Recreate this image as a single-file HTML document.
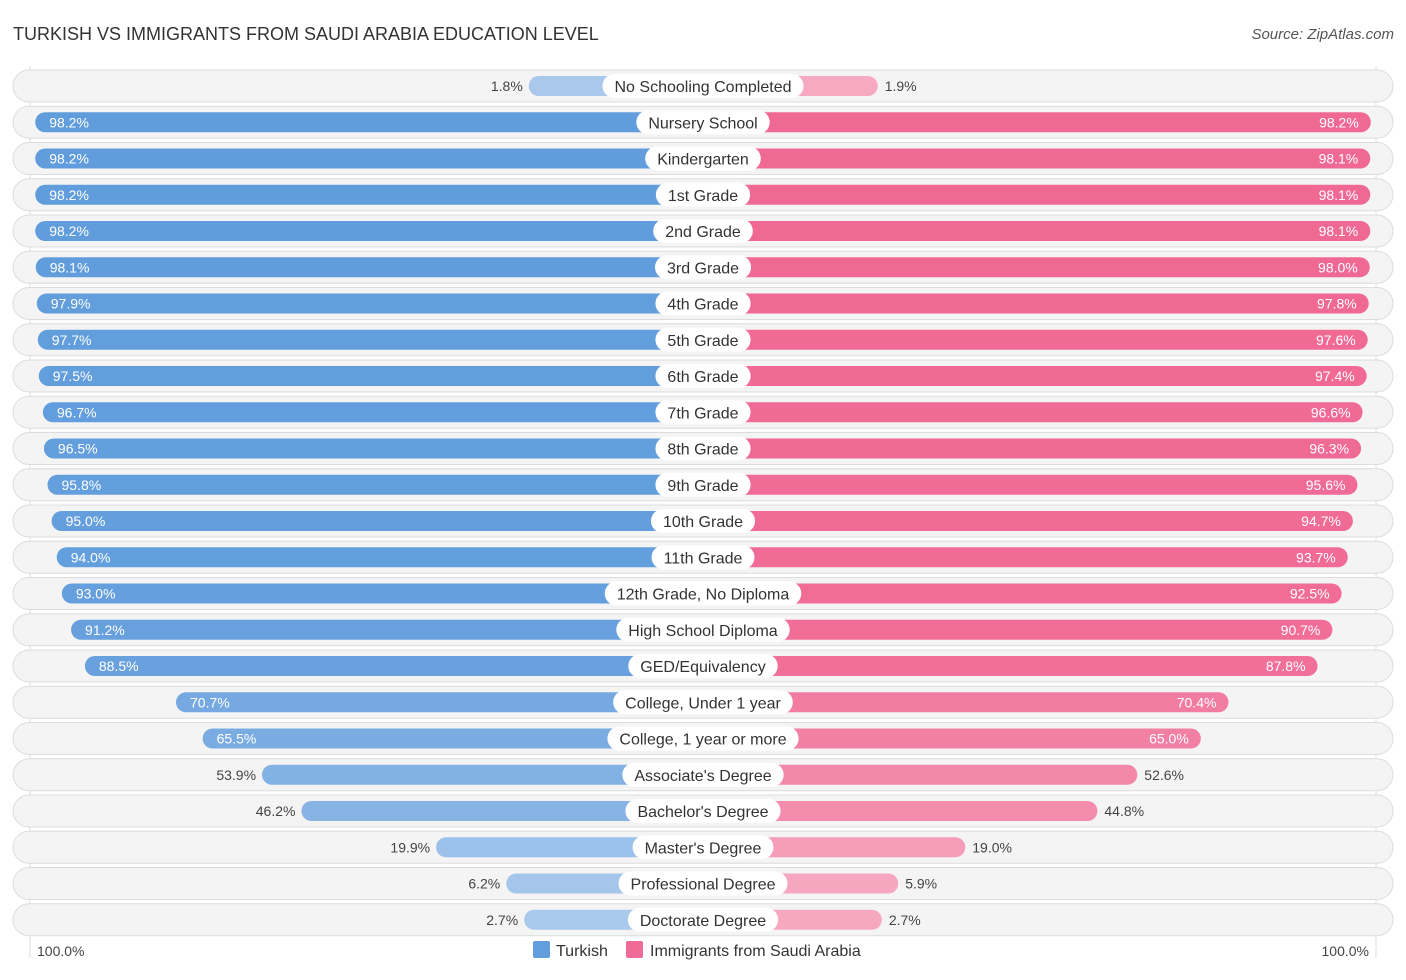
<!DOCTYPE html>
<html><head><meta charset="utf-8"><style>
body{margin:0;background:#fff;font-family:"Liberation Sans",sans-serif;}
svg text{font-family:"Liberation Sans",sans-serif;}
</style></head><body>
<svg id="c" width="1406" height="975">
<text x="13" y="40" font-size="18" fill="#333">TURKISH VS IMMIGRANTS FROM SAUDI ARABIA EDUCATION LEVEL</text>
<text x="1394" y="39" font-size="15" fill="#555" font-style="italic" text-anchor="end">Source: ZipAtlas.com</text>
<line x1="30" y1="66" x2="30" y2="958" stroke="#ddd"/>
<line x1="1376" y1="66" x2="1376" y2="958" stroke="#ddd"/>
<g id="rows"></g>
<text x="37" y="956" font-size="14" fill="#444">100.0%</text>
<text x="1369" y="956" font-size="14" fill="#444" text-anchor="end">100.0%</text>
<rect x="533" y="941" width="17" height="17" rx="2" fill="#629edd"/>
<text x="556" y="956" font-size="16" fill="#333">Turkish</text>
<rect x="626" y="941" width="17" height="17" rx="2" fill="#f06b95"/>
<text x="650" y="956" font-size="16" fill="#333">Immigrants from Saudi Arabia</text>
</svg>
<script>
const categories=["No Schooling Completed","Nursery School","Kindergarten","1st Grade","2nd Grade","3rd Grade","4th Grade","5th Grade","6th Grade","7th Grade","8th Grade","9th Grade","10th Grade","11th Grade","12th Grade, No Diploma","High School Diploma","GED/Equivalency","College, Under 1 year","College, 1 year or more","Associate's Degree","Bachelor's Degree","Master's Degree","Professional Degree","Doctorate Degree"];
const turkish=[1.8,98.2,98.2,98.2,98.2,98.1,97.9,97.7,97.5,96.7,96.5,95.8,95.0,94.0,93.0,91.2,88.5,70.7,65.5,53.9,46.2,19.9,6.2,2.7];
const saudi=[1.9,98.2,98.1,98.1,98.1,98.0,97.8,97.6,97.4,96.6,96.3,95.6,94.7,93.7,92.5,90.7,87.8,70.4,65.0,52.6,44.8,19.0,5.9,2.7];
const NS="http://www.w3.org/2000/svg";
const g=document.getElementById('rows');
const cx=703,base=165,k=5.12;
function len(v){return base+v*k;}
function mix(a,b,t){return 'rgb('+a.map((x,i)=>Math.round(x+(b[i]-x)*t)).join(',')+')';}
function mk(tag,at,parent){const e=document.createElementNS(NS,tag);for(const a in at)e.setAttribute(a,at[a]);(parent||g).appendChild(e);return e;}
const meas=mk('text',{'font-size':16,x:-1000,y:-1000});
categories.forEach((c,i)=>{
  const y=86+i*36.25;
  const row=mk('g',{});
  
  
  mk('rect',{x:13,y:y-16,width:1380,height:32,rx:16,fill:'#f4f4f4',stroke:'#dcdcdc'},row);
  const tv=turkish[i],sv=saudi[i];
  const t=1-tv/100, s=1-sv/100;
  const lb=mk('rect',{x:cx-len(tv),y:y-10,width:len(tv),height:20,rx:10,fill:mix([96,156,220],[170,201,236],t)},row);
  
  
  const rb=mk('rect',{x:cx,y:y-10,width:len(sv),height:20,rx:10,fill:mix([240,104,148],[247,170,194],s)},row);
  
  
  meas.textContent=c;
  const w=meas.getComputedTextLength()+24;
  const pill=mk('rect',{x:cx-w/2,y:y-12,width:w,height:24,rx:12,fill:'#fff'},row);
  
  
  const lt=mk('text',{x:cx,y:y+6,'font-size':16,fill:'#333','text-anchor':'middle'},row);
  lt.textContent=c;
  
  
  const inside=tv>60;
  const tl=mk('text',{x:inside?cx-len(tv)+14:cx-len(tv)-6,y:y+5,'font-size':14,fill:inside?'#fff':'#444','text-anchor':inside?'start':'end'},row);
  tl.textContent=tv.toFixed(1)+'%';
  
  
  const in2=sv>60;
  const sl=mk('text',{x:in2?cx+len(sv)-12:cx+len(sv)+7,y:y+5,'font-size':14,fill:in2?'#fff':'#444','text-anchor':in2?'end':'start'},row);
  sl.textContent=sv.toFixed(1)+'%';
  
  
});
meas.remove();
</script>
</body></html>
